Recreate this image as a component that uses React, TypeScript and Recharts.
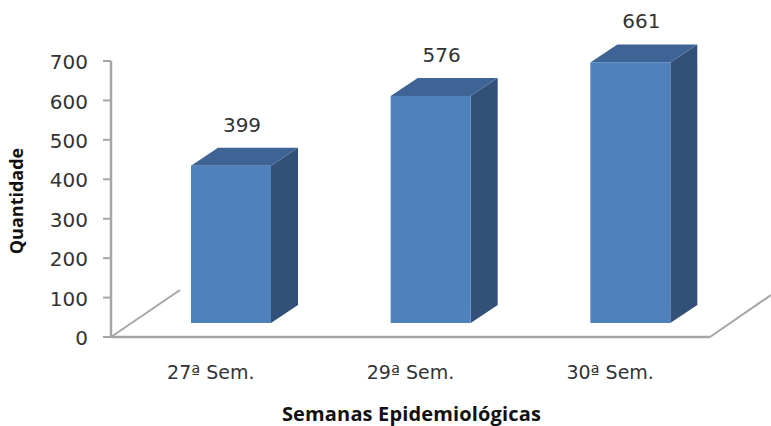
import { BarChart, Bar, XAxis, YAxis, LabelList, usePlotArea } from 'recharts'

const weeks = ['27ª Sem.', '29ª Sem.', '30ª Sem.']
const cases = [399, 576, 661]
const yTicks = [0, 100, 200, 300, 400, 500, 600, 700]

const data = weeks.map((name, i) => ({ name, cases: cases[i] }))

const DEPTH_X = 27
const DEPTH_Y = 18
const SHIFT_X = 20
const SHIFT_Y = -14
const AXIS_COLOR = '#a6a6a6'
const TEXT_COLOR = '#333333'

function Box3D({ x, y, width, height }: any) {
  const left = x + SHIFT_X
  const right = left + width
  const top = y + SHIFT_Y
  const bottom = top + height
  return (
    <g>
      <polygon
        points={`${right},${top} ${right + DEPTH_X},${top - DEPTH_Y} ${right + DEPTH_X},${bottom - DEPTH_Y} ${right},${bottom}`}
        fill="#335178"
      />
      <polygon
        points={`${left},${top} ${left + DEPTH_X},${top - DEPTH_Y} ${right + DEPTH_X},${top - DEPTH_Y} ${right},${top}`}
        fill="#3d6494"
      />
      <rect x={left} y={top} width={width} height={height} fill="#4f81bd" />
    </g>
  )
}

function ValueLabel({ x, y, width, value }: any) {
  return (
    <text
      x={x + width / 2 + SHIFT_X + 11}
      y={y - 48}
      textAnchor="middle"
      fontFamily="DejaVu Sans"
      fontSize={20}
      fill={TEXT_COLOR}
    >
      {value}
    </text>
  )
}

// slanted floor edges of the 3d plot
function Floor() {
  const plot = usePlotArea()
  if (!plot) return null
  const bottom = plot.y + plot.height
  const end = plot.x + plot.width
  return (
    <g stroke={AXIS_COLOR} strokeWidth={2}>
      <line x1={plot.x} y1={bottom} x2={plot.x + 69} y2={bottom - 47} />
      <line x1={end} y1={bottom} x2={end + 61} y2={bottom - 42} />
    </g>
  )
}

export default function App() {
  return (
    <div style={{ position: 'absolute', left: 0, top: 0, width: 771, height: 426, background: '#fff' }}>
      <BarChart
        width={771}
        height={426}
        data={data}
        margin={{ top: 61, right: 61, bottom: 0, left: 0 }}
        barSize={80}
      >
        <XAxis
          dataKey="name"
          height={89}
          axisLine={{ stroke: AXIS_COLOR, strokeWidth: 2.5 }}
          tickLine={false}
          tickMargin={23}
          tick={{ fontFamily: 'DejaVu Sans', fontSize: 19, fill: TEXT_COLOR }}
          label={{
            value: 'Semanas Epidemiológicas',
            position: 'insideBottom',
            offset: 5,
            dx: 1,
            style: { fontFamily: 'Open Sans', fontWeight: 700, fontSize: 20, letterSpacing: 0.15, fill: '#111' }
          }}
        />
        <YAxis
          width={111}
          domain={[0, 700]}
          ticks={yTicks}
          axisLine={{ stroke: AXIS_COLOR, strokeWidth: 2.5 }}
          tickLine={{ stroke: AXIS_COLOR, strokeWidth: 2 }}
          tickSize={8}
          tickMargin={15}
          tick={{ fontFamily: 'DejaVu Sans', fontSize: 20, fill: TEXT_COLOR, dy: 1 }}
          label={{
            value: 'Quantidade',
            angle: -90,
            position: 'insideLeft',
            offset: 17,
            dy: 2,
            style: { textAnchor: 'middle', fontFamily: 'Open Sans', fontWeight: 700, fontSize: 18, fill: '#111' }
          }}
        />
        <Floor />
        <Bar dataKey="cases" shape={Box3D} isAnimationActive={false}>
          <LabelList dataKey="cases" content={ValueLabel} />
        </Bar>
      </BarChart>
    </div>
  )
}
